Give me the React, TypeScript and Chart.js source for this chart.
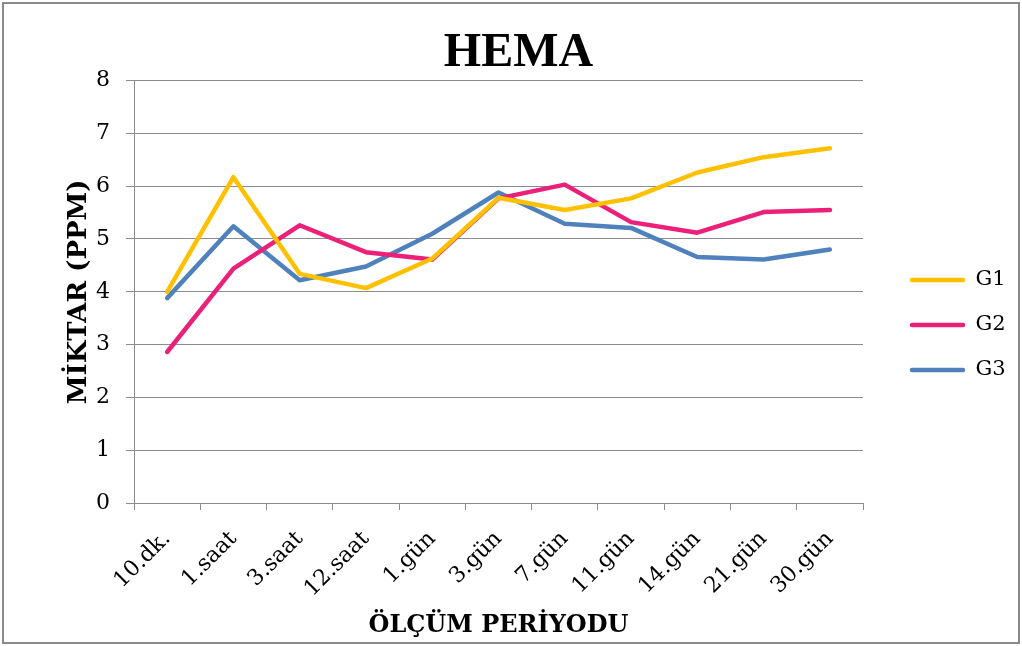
import React, { useEffect, useRef } from 'react';
import { Chart, registerables } from 'chart.js';

Chart.register(...registerables);

const categories = ['10.dk.', '1.saat', '3.saat', '12.saat', '1.gün', '3.gün', '7.gün', '11.gün', '14.gün', '21.gün', '30.gün'];
const g1Values = [4.0, 6.17, 4.34, 4.07, 4.63, 5.78, 5.55, 5.77, 6.26, 6.55, 6.72];
const g2Values = [2.86, 4.44, 5.26, 4.75, 4.61, 5.77, 6.03, 5.32, 5.12, 5.51, 5.55];
const g3Values = [3.88, 5.24, 4.22, 4.48, 5.10, 5.88, 5.29, 5.21, 4.66, 4.61, 4.80];
const seriesLabels = ['G1', 'G2', 'G3'];
const seriesColors = ['#FFC000', '#EC2079', '#4F81BD'];
const yMin = 0;
const yMax = 8;
const yStep = 1;
const chartTitle = 'HEMA';
const yAxisTitle = 'MİKTAR (PPM)';
const xAxisTitle = 'ÖLÇÜM PERİYODU';

const W = 1022;
const H = 646;
const SERIF = "'DejaVu Serif', serif";
const TIMES = "'Liberation Serif', 'Times New Roman', serif";
const GRID = '#8c8c8c';
const LEGEND_BOX = 78;
const LEGEND_LINE = 55;

function legendLine(color: string): HTMLCanvasElement {
  const c = document.createElement('canvas');
  c.width = LEGEND_BOX;
  c.height = 8;
  const g = c.getContext('2d') as CanvasRenderingContext2D;
  g.strokeStyle = color;
  g.lineWidth = 4.5;
  g.lineCap = 'round';
  g.beginPath();
  g.moveTo(LEGEND_BOX - LEGEND_LINE + 2, 4);
  g.lineTo(LEGEND_BOX - 2, 4);
  g.stroke();
  return c;
}

export default function App() {
  const ref = useRef<HTMLCanvasElement>(null);
  useEffect(() => {
    const canvas = ref.current as HTMLCanvasElement;
    const values = [g1Values, g2Values, g3Values];
    const chart = new Chart(canvas, {
      type: 'line',
      data: {
        labels: categories,
        datasets: seriesLabels.map((label, i) => ({
          label,
          data: values[i],
          borderColor: seriesColors[i],
          backgroundColor: seriesColors[i],
          borderWidth: 4.5,
          pointRadius: 0,
          pointHoverRadius: 0,
          pointStyle: legendLine(seriesColors[i]),
          tension: 0,
          fill: false,
          borderJoinStyle: 'round' as const,
          borderCapStyle: 'round' as const,
        })),
      },
      options: {
        responsive: false,
        animation: false,
        devicePixelRatio: 1,
        layout: { padding: { top: 4, left: 0, right: -15, bottom: 0 } },
        plugins: {
          title: {
            display: true,
            text: chartTitle,
            color: '#000',
            font: { family: TIMES, size: 48, weight: 'bold' },
            padding: { top: 21, bottom: -2 },
          },
          legend: {
            position: 'right',
            align: 'center',
            labels: {
              usePointStyle: true,
              pointStyleWidth: LEGEND_BOX,
              padding: 24,
              color: '#000',
              font: { family: SERIF, size: 21 },
            },
          },
          tooltip: { enabled: false },
        },
        scales: {
          x: {
            type: 'category',
            offset: true,
            grid: { offset: true, drawOnChartArea: false, drawTicks: true, tickLength: 7, color: GRID, lineWidth: 1 },
            border: { display: true, color: GRID, width: 1 },
            ticks: {
              color: '#000',
              font: { family: SERIF, size: 22 },
              minRotation: 45,
              maxRotation: 45,
              padding: 16,
              autoSkip: false,
            },
            title: {
              display: true,
              text: xAxisTitle,
              color: '#000',
              font: { family: SERIF, size: 24, weight: 'bold' },
              padding: { top: 4, bottom: 6 },
            },
            afterFit: (s: any) => {
              s.height = H - 503;
              s.paddingRight = W - 863;
              s.paddingLeft = 0;
            },
          },
          y: {
            min: yMin,
            max: yMax,
            ticks: { stepSize: yStep, color: '#000', font: { family: SERIF, size: 22 }, padding: 16 },
            grid: { color: GRID, lineWidth: 1, tickLength: 8, drawTicks: true },
            border: { display: true, color: GRID, width: 1 },
            title: {
              display: true,
              text: yAxisTitle,
              color: '#000',
              font: { family: SERIF, size: 26, weight: 'bold' },
              padding: { top: 64, bottom: 4 },
            },
            afterFit: (s: any) => {
              s.width = 134;
            },
          },
        },
      },
    });
    return () => chart.destroy();
  }, []);
  return (
    <div style={{ position: 'absolute', left: 0, top: 0, width: W, height: H, background: '#fff' }}>
      <canvas ref={ref} width={W} height={H} style={{ position: 'absolute', left: 0, top: 0 }} />
      <div
        style={{
          position: 'absolute',
          left: 2,
          top: 2,
          width: 1018,
          height: 642,
          border: '2px solid #8a8a8a',
          boxSizing: 'border-box',
          pointerEvents: 'none',
        }}
      />
    </div>
  );
}
